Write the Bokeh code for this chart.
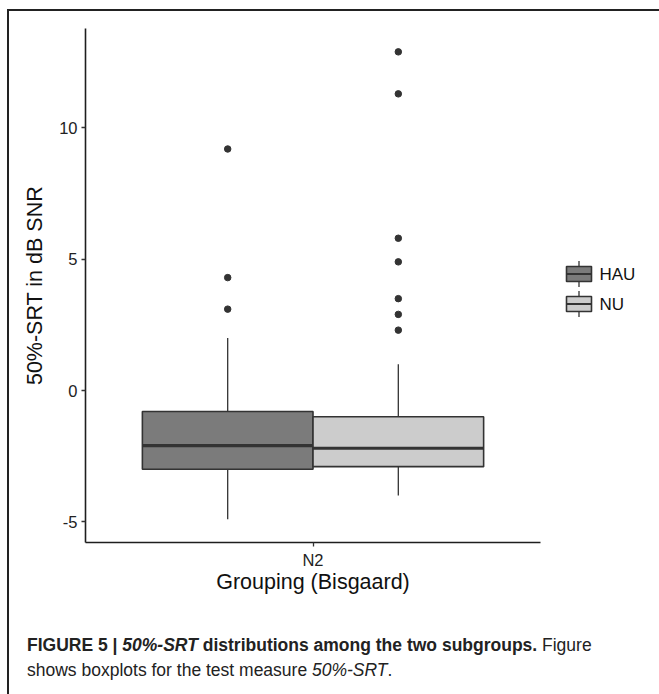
from bokeh.plotting import figure
from bokeh.models import ColumnDataSource, Range1d, FixedTicker, Div
from bokeh.layouts import row, column
from bokeh.embed import file_html
from bokeh.resources import INLINE
from bokeh.core.properties import value

# ---------------- data ----------------
category = ["N2"]
groups = ["HAU", "NU"]
fill_colors = ["#7b7b7b", "#cccccc"]
lower_whisker = [-4.9, -4.0]
q1 = [-3.0, -2.9]
median = [-2.1, -2.2]
q3 = [-0.8, -1.0]
upper_whisker = [2.0, 1.0]
outliers = [[3.1, 4.3, 9.2], [2.3, 2.9, 3.5, 4.9, 5.8, 11.3, 12.9]]
y_ticks = [-5, 0, 5, 10]
x_label = "Grouping (Bisgaard)"
y_label = "50%-SRT in dB SNR"
caption_html = ('<b>FIGURE 5 | <i>50%-SRT</i> distributions among the two subgroups.</b> Figure<br>'
                'shows boxplots for the test measure <i>50%-SRT</i>.')

FONT = "Liberation Sans"
LINE = "#333333"
AXIS = "#1e1e1e"

# ---------------- main plot ----------------
cat_pos = 1  # position of the single category
dodge_total = 0.9
n = len(groups)
bw = dodge_total / n
FRAME_H = 514

p = figure(frame_width=455, frame_height=FRAME_H,
           x_range=Range1d(cat_pos - 0.6, cat_pos + 0.6),
           y_range=Range1d(-5.79, 13.79),
           min_border_left=76, min_border_right=5, min_border_top=17, min_border_bottom=57,
           title=None, output_backend="svg", toolbar_location=None)

for i, g in enumerate(groups):
    xc = cat_pos + (i - (n - 1) / 2) * bw
    src = ColumnDataSource(dict(
        x=[xc], left=[xc - bw / 2], right=[xc + bw / 2],
        q1=[q1[i]], q3=[q3[i]], med=[median[i]],
        lo=[lower_whisker[i]], hi=[upper_whisker[i]]))
    p.segment(x0="x", x1="x", y0="q3", y1="hi", source=src, line_color=LINE, line_width=1.3)
    p.segment(x0="x", x1="x", y0="q1", y1="lo", source=src, line_color=LINE, line_width=1.3)
    p.quad(left="left", right="right", bottom="q1", top="q3", source=src,
           fill_color=fill_colors[i], line_color=LINE, line_width=1.6)
    p.segment(x0="left", x1="right", y0="med", y1="med", source=src, line_color=LINE, line_width=3.2)
    osrc = ColumnDataSource(dict(x=[xc] * len(outliers[i]), y=outliers[i]))
    p.scatter(x="x", y="y", source=osrc, size=6.5, fill_color=LINE, line_color=LINE)

p.xgrid.visible = False
p.ygrid.visible = False
p.outline_line_color = None
p.background_fill_color = "white"
p.border_fill_color = "white"

p.xaxis.ticker = FixedTicker(ticks=[cat_pos])
p.xaxis.major_label_overrides = {cat_pos: category[0]}
p.yaxis.ticker = FixedTicker(ticks=y_ticks)
p.yaxis.major_label_overrides = {t: str(t) for t in y_ticks}
p.xaxis.axis_label = x_label
p.yaxis.axis_label = y_label

for ax in (p.xaxis[0], p.yaxis[0]):
    ax.axis_line_color = AXIS
    ax.axis_line_width = 1.6
    ax.major_tick_line_color = LINE
    ax.major_tick_line_width = 1.3
    ax.major_tick_in = 0
    ax.major_tick_out = 4
    ax.minor_tick_line_color = None
    ax.major_label_text_font = FONT
    ax.major_label_text_font_size = "16.5px"
    ax.major_label_text_color = "#222222"
    ax.axis_label_text_font = FONT
    ax.axis_label_text_font_size = "21.5px"
    ax.axis_label_text_font_style = "normal"
    ax.axis_label_text_color = "#111111"

p.xaxis.major_label_standoff = 4
p.xaxis.axis_label_standoff = -2
p.yaxis.major_label_standoff = 4
p.yaxis.axis_label_standoff = 9

# ---------------- legend (separate small figure, frame aligned with main frame) ----------------
leg_w = 110
leg = figure(frame_width=leg_w, frame_height=FRAME_H, x_range=Range1d(0, leg_w), y_range=Range1d(FRAME_H, 0),
             min_border=0, x_axis_location=None, y_axis_location=None, title=None,
             output_backend="svg", toolbar_location=None)
leg.xgrid.visible = False
leg.ygrid.visible = False
leg.outline_line_color = None

key_left, key_right = 21, 46
key_top0, key_step = 245.5, 30
box_half, stub_half = 7.5, 13
centers = [key_top0 + i * key_step for i in range(n)]
kx = (key_left + key_right) / 2
lsrc = ColumnDataSource(dict(
    cy=centers, top=[c - box_half for c in centers], bot=[c + box_half for c in centers],
    st=[c - stub_half for c in centers], sb=[c + stub_half for c in centers],
    fill=fill_colors, label=groups))
leg.segment(x0=kx, x1=kx, y0="st", y1="top", source=lsrc, line_color=LINE, line_width=1.3)
leg.segment(x0=kx, x1=kx, y0="bot", y1="sb", source=lsrc, line_color=LINE, line_width=1.3)
leg.quad(left=key_left, right=key_right, top="top", bottom="bot", source=lsrc,
         fill_color="fill", line_color=LINE, line_width=1.6)
leg.segment(x0=key_left, x1=key_right, y0="cy", y1="cy", source=lsrc, line_color=LINE, line_width=2.2)
leg.text(x=54, y="cy", text="label", source=lsrc, text_font=value(FONT), text_font_size="17px",
         text_baseline="middle", text_align="left", text_color="#111111")

# ---------------- caption ----------------
cap = Div(text=caption_html, width=645, height=92,
          styles={"font-family": "'Liberation Sans', Arial, sans-serif",
                  "font-size": "17.5px", "line-height": "25px", "color": "#222222",
                  "padding-top": "29px", "padding-left": "13px", "white-space": "nowrap"})

root = column(row(p, leg), cap, margin=(9, 0, 0, 7),
              styles={"border-top": "2px solid #222222", "border-left": "2px solid #222222"})

open("out.html", "w").write(file_html(root, INLINE))
